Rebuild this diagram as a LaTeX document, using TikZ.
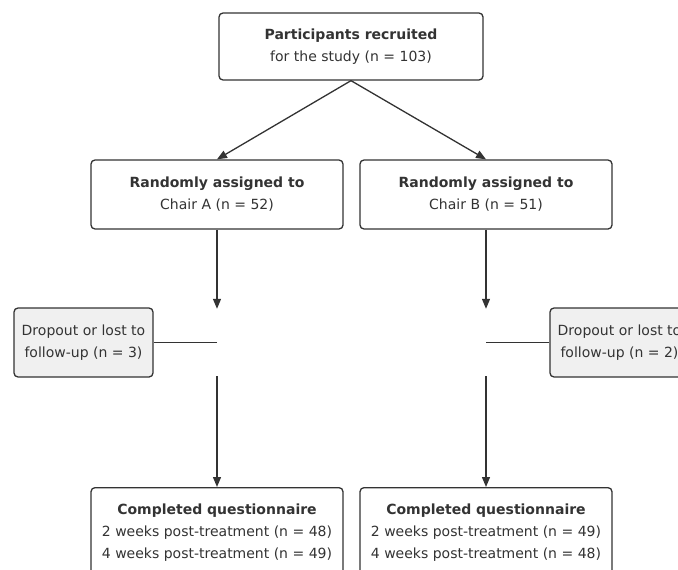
\documentclass[tikz,border=0pt]{standalone}
\usepackage{fontspec}
\setmainfont{DejaVu Sans}
\usepackage{tikz}
\usetikzlibrary{shapes.geometric, arrows.meta}
\definecolor{linegray}{HTML}{333333}
\definecolor{dropfill}{HTML}{F0F0F0}

\begin{document}
\begin{tikzpicture}[
                x=1pt, y=-1pt, % pixel-like units, y pointing down
                every node/.style={font=\fontsize{14}{22}\selectfont, text=linegray, align=center}, % text of all boxes
                box/.style={rectangle, rounded corners=4pt, draw=linegray, line width=1.3pt, fill=white, inner sep=0pt}, % white boxes
                dropbox/.style={box, fill=dropfill, minimum width=139pt, minimum height=69pt}, % dropout boxes
                gap/.style={rectangle, inner sep=0pt, minimum width=0pt, minimum height=67pt}, % hidden split point
                arrow/.style={-{Triangle[length=10pt, width=8pt]}, draw=linegray, line width=1.3pt}, % arrows
                link/.style={draw=linegray, line width=1.3pt} % plain lines
                ]
                \useasboundingbox (0,0) rectangle (678,570);
                \clip (0,0) rectangle (678,570);
                % boxes
                \node[box, minimum width=264pt, minimum height=67pt] (recruited) at (351,46.5) {\textbf{Participants recruited}\\for the study (n = 103)};
                \node[box, minimum width=252pt, minimum height=69pt] (chairA) at (217,194.5) {\textbf{Randomly assigned to}\\Chair A (n = 52)};
                \node[box, minimum width=252pt, minimum height=69pt] (chairB) at (486,194.5) {\textbf{Randomly assigned to}\\Chair B (n = 51)};
                \node[gap] (splitA) at (217,342.5) {};
                \node[gap] (splitB) at (486,342.5) {};
                \node[dropbox] (dropA) at (83.5,342.5) {Dropout or lost to\\follow-up (n = 3)};
                \node[dropbox] (dropB) at (619.5,342.5) {Dropout or lost to\\follow-up (n = 2)};
                \node[box, anchor=north, minimum width=252pt, minimum height=89pt] (doneA) at (217,487) {\textbf{Completed questionnaire}\\2 weeks post-treatment (n = 48)\\4 weeks post-treatment (n = 49)};
                \node[box, anchor=north, minimum width=252pt, minimum height=89pt] (doneB) at (486,487) {\textbf{Completed questionnaire}\\2 weeks post-treatment (n = 49)\\4 weeks post-treatment (n = 48)};
                % connectors
                \draw[arrow] (recruited.south) -- (chairA.north);
                \draw[arrow] (recruited.south) -- (chairB.north);
                \draw[arrow] (chairA) -- (splitA.north);
                \draw[arrow] (chairB) -- (splitB.north);
                \draw[link] (splitA.center) -- (dropA);
                \draw[link] (splitB.center) -- (dropB);
                \draw[arrow] (splitA.south) -- (doneA.north);
                \draw[arrow] (splitB.south) -- (doneB.north);
            \end{tikzpicture}
\end{document}
